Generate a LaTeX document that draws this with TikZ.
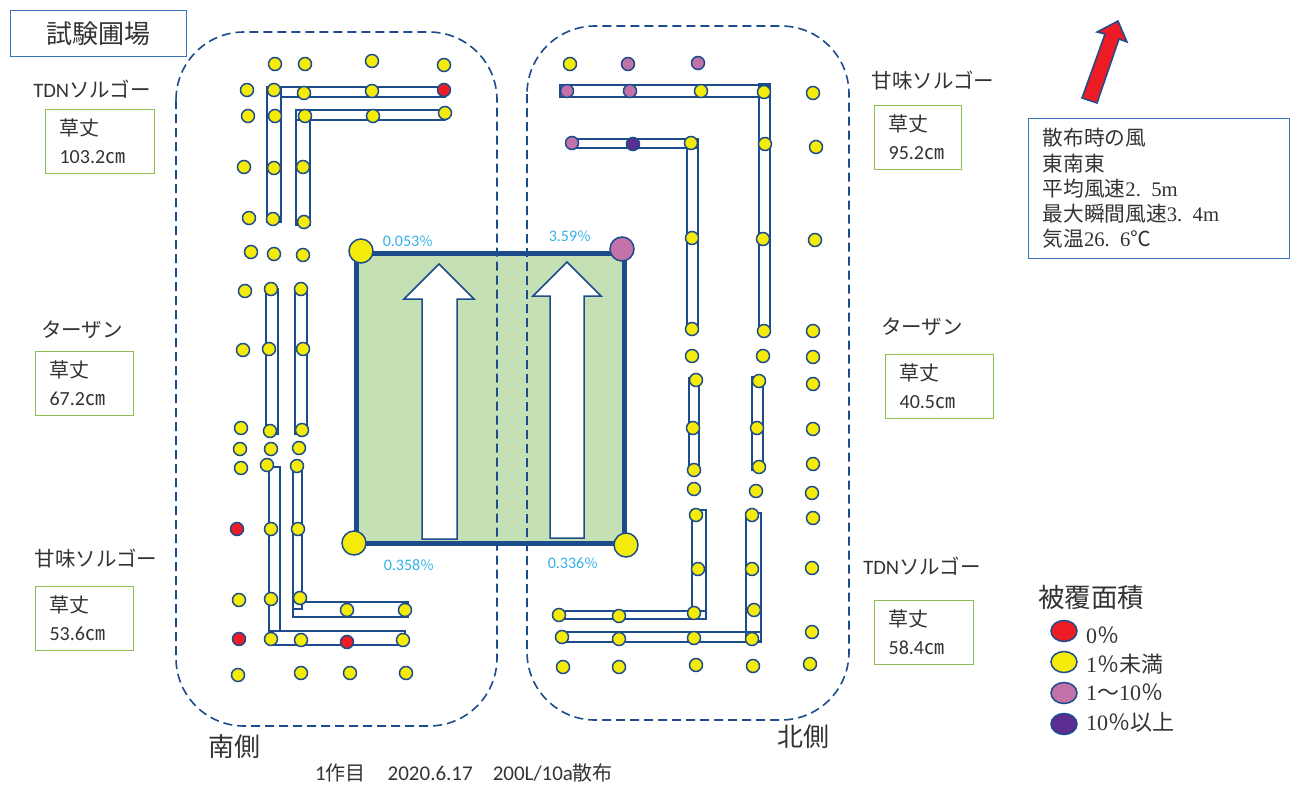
\documentclass[tikz,border=0pt]{standalone}
\usepackage{fontspec}
\usetikzlibrary{shapes.geometric}
\setmainfont{Noto Sans CJK JP}
\newfontfamily\latf{Carlito}
\newfontfamily\numf{Liberation Serif}
\newfontfamily\cjkf{Noto Sans CJK JP}
\newcommand{\fs}[1]{\fontsize{#1}{#1}\selectfont}
\definecolor{navy}{HTML}{1C4C8C}
\definecolor{dotyellow}{HTML}{F5EB0A}
\definecolor{dotred}{HTML}{ED1C24}
\definecolor{dotpink}{HTML}{C271A9}
\definecolor{dotviolet}{HTML}{5B2D90}
\definecolor{plotgreen}{HTML}{C5E0B4}
\definecolor{boxgreen}{HTML}{8CC152}
\definecolor{boxblue}{HTML}{3A76BC}
\definecolor{pctblue}{HTML}{35B0E6}
\definecolor{inktext}{HTML}{333333}
\newcommand{\pctsign}{{\cjkf\fs{14}％}}
\tikzset{
	smalldot/.style={circle,draw=navy,line width=1.5pt,inner sep=0pt,minimum size=13pt},
	bigdot/.style={circle,draw=navy,line width=1.5pt,inner sep=0pt,minimum size=24pt},
	legdot/.style={ellipse,draw=navy,line width=1.5pt,inner sep=0pt,minimum width=26pt,minimum height=21pt},
	strip/.style={draw=navy,line width=1.5pt},
	bigarrow/.style={draw=navy,line width=1.5pt,fill=white,line join=miter},
	zone/.style={draw=navy,line width=1.6pt,dash pattern=on 9pt off 5pt,rounded corners=68pt},
	hgtbox/.style={draw=boxgreen,line width=1.2pt,anchor=north west,align=left,text=inktext,
		inner xsep=14pt,inner ysep=0pt,text width=#1,minimum height=64pt,font=\fontsize{20}{28}\selectfont},
	vname/.style={text=inktext,font=\fs{20.5}},
	pct/.style={text=pctblue,font=\latf\fs{16}},
	legtext/.style={anchor=west,inner sep=0pt,text=inktext,font=\cjkf\fs{22}},
}
\begin{document}
\begin{tikzpicture}[x=1pt,y=-1pt]
	\useasboundingbox (0,0) rectangle (1298,787);
	% sprayed plot
	\draw[draw=navy,line width=5pt,fill=plotgreen] (356,253) rectangle (624,543);
	\draw[zone] (176,32) rectangle (497,726);
	\draw[zone] (527,26) rectangle (849,720);
	\draw[bigarrow] (439,264) -- (474,299) -- (457,299) -- (457,539) -- (422,539) -- (422,299) -- (404,299) -- cycle;
	\draw[bigarrow] (567,262) -- (601,296) -- (584,296) -- (584,538) -- (550,538) -- (550,296) -- (533,296) -- cycle;
	% south side strips
	\draw[strip] (281,87) rectangle (445,97);
	\draw[strip] (267,87) rectangle (281,222);
	\draw[strip] (296,110) rectangle (445,120);
	\draw[strip] (296,110) rectangle (310,225);
	\draw[strip] (266,289) rectangle (278,434);
	\draw[strip] (295,289) rectangle (307,434);
	\draw[strip] (269,467) rectangle (280,631);
	\draw[strip] (269,631) rectangle (405,645);
	\draw[strip] (293,466) rectangle (302,609);
	\draw[strip] (293,602) rectangle (408,617);
	% north side strips
	\draw[strip] (560,85) rectangle (768,97);
	\draw[strip] (759,84) rectangle (770,331);
	\draw[strip] (575,139) rectangle (697,148);
	\draw[strip] (687,139) rectangle (698,329);
	\draw[strip] (689,378) rectangle (699,470);
	\draw[strip] (752,377) rectangle (763,470);
	\draw[strip] (692,510) rectangle (706,619);
	\draw[strip] (559,611) rectangle (706,619);
	\draw[strip] (746,513) rectangle (761,641);
	\draw[strip] (562,632) rectangle (761,642);
	% yellow dots
	\foreach \x/\y [count=\i] in {275/64,305/64,372/61,444/65,247/90,274/90,304/93,372/91,
		248/116,275/116,305/116,373/116,445/113,244/167,274/168,303/167,249/218,273/219,304/222,
		251/252,274/254,303/255,245/291,271/289,301/289,243/350,269/349,303/349,
		241/428,270/431,302/430,240/449,271/449,299/448,241/468,267/465,297/466,
		271/529,298/529,239/600,271/599,300/598,347/610,405/610,
		271/639,301/640,403/640,238/675,301/673,350/673,406/673,
		570/64,701/91,764/92,813/93,691/143,765/144,816/147,692/238,763/239,815/240,
		692/329,764/331,813/331,692/356,763/356,813/357,696/380,759/381,813/384,
		693/428,757/428,813/429,694/470,759/467,813/464,694/489,756/491,812/493,
		696/515,752/515,813/518,698/569,752/569,812/568,559/615,619/616,694/613,754/610,
		562/637,619/639,694/638,752/639,812/632,563/667,619/667,696/665,753/666,810/664}
		\node (yw\i)[smalldot,fill=dotyellow] at (\x,\y) {};
	% other dots
	\foreach \x/\y [count=\i] in {444/90,237/529,239/639,347/642}
		\node (rd\i)[smalldot,fill=dotred] at (\x,\y) {};
	\foreach \x/\y [count=\i] in {628/64,698/63,567/91,630/91,572/143}
		\node (pk\i)[smalldot,fill=dotpink] at (\x,\y) {};
	\node (vt1)[smalldot,fill=dotviolet] at (633,144) {};
	% corners
	\node (cnw)[bigdot,fill=dotyellow] at (361,251) {};
	\node (cne)[bigdot,fill=dotpink] at (622,249) {};
	\node (csw)[bigdot,fill=dotyellow] at (354,543) {};
	\node (cse)[bigdot,fill=dotyellow] at (626,545) {};
	\node (pnw)[pct] at (408,241) {0.053\pctsign};
	\node (pne)[pct] at (570,236) {3.59\pctsign};
	\node (psw)[pct] at (409,565) {0.358\pctsign};
	\node (pse)[pct] at (573,563) {0.336\pctsign};
	% title
	\node (title)[draw=boxblue,line width=1.2pt,anchor=north west,minimum width=176pt,minimum height=46pt,inner sep=0pt,text=inktext,font=\fs{26}] at (10,10) {試験圃場};
	% varieties
	\node (v1)[vname] at (92,89) {{\latf TDN}ソルゴー};
	\node (h1)[hgtbox=81pt] at (45,109) {草丈\\{\latf 103.2}㎝};
	\node (v2)[vname] at (82,330) {ターザン};
	\node (h2)[hgtbox=70pt] at (35,351) {草丈\\{\latf 67.2}㎝};
	\node (v3)[vname] at (96,559) {甘味ソルゴー};
	\node (h3)[hgtbox=70pt] at (35,586) {草丈\\{\latf 53.6}㎝};
	\node (v4)[vname] at (933,81) {甘味ソルゴー};
	\node (h4)[hgtbox=59pt] at (874,105) {草丈\\{\latf 95.2}㎝};
	\node (v5)[vname] at (922,327) {ターザン};
	\node (h5)[hgtbox=80pt] at (885,354) {草丈\\{\latf 40.5}㎝};
	\node (v6)[vname] at (922,566) {{\latf TDN}ソルゴー};
	\node (h6)[hgtbox=71pt] at (874,600) {草丈\\{\latf 58.4}㎝};
	% wind
	\draw[draw=navy,line width=1.5pt,fill=dotred] (1118,21) -- (1127,42) -- (1119,39) -- (1097,103) -- (1082,98) -- (1105,34) -- (1097,32) -- cycle;
	\node (wind)[draw=boxblue,line width=1.2pt,anchor=north west,minimum height=140pt,align=left,text=inktext,
		inner xsep=14pt,inner ysep=0pt,text width=233pt,font=\fontsize{20.7}{25.3}\selectfont] at (1028,118)
		{散布時の風\\東南東\\平均風速{\numf 2. 5m}\\最大瞬間風速{\numf 3. 4m}\\気温{\numf 26. 6}℃};
	% legend
	\node (legt)[anchor=west,inner sep=0pt,text=inktext,font=\fs{26.5}] at (1038,597) {被覆面積};
	\node (lr)[legdot,fill=dotred] at (1064,631) {};
	\node (ly)[legdot,fill=dotyellow] at (1064,662) {};
	\node (lp)[legdot,fill=dotpink] at (1064,693) {};
	\node (lv)[legdot,fill=dotviolet] at (1064,724) {};
	\node (ltr)[legtext] at (1086,635) {{\numf 0}％};
	\node (lty)[legtext] at (1086,664) {{\numf 1}％未満};
	\node (ltp)[legtext] at (1086,692) {{\numf 1}〜{\numf 10}％};
	\node (ltv)[legtext] at (1086,722) {{\numf 10}％以上};
	% sides and caption
	\node (south)[text=inktext,font=\fs{26}] at (234,747) {南側};
	\node (north)[text=inktext,font=\fs{26}] at (803,737) {北側};
	\node (cap)[text=inktext,font=\latf\fs{21}] at (464,773) {1{\cjkf\fs{20}作目}\hspace{22pt}2020.6.17\hspace{20pt}200L/10a{\cjkf\fs{20}散布}};
\end{tikzpicture}
\end{document}
